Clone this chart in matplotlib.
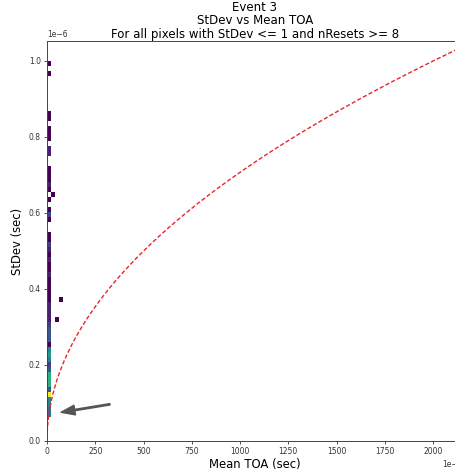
import numpy as np
import matplotlib
matplotlib.use("Agg")
import matplotlib.pyplot as plt

# ---------------- data (microseconds) ----------------
# occupied 2D-histogram cells: x bin index, y bin index, count
col_k = [0, 1, 2, 3, 4, 5, 6, 7, 8, 9, 10, 11, 12, 13, 14, 15, 16, 17, 18, 19,
         20, 21, 22, 23, 24, 25, 26, 27, 28, 29, 30, 31, 32, 33, 34, 35, 36,
         39, 40, 41, 43, 45, 46, 47, 48, 49, 52, 53, 55, 56, 57, 59, 60, 68, 70]
col_counts = [5, 5, 6, 6, 12, 4, 8, 8, 8, 4, 3, 6, 7, 6, 1, 4, 4, 4, 3, 2,
              2, 2, 2, 1, 1, 1, 1, 1, 2, 1, 1, 2, 1, 2, 3, 1, 1,
              1, 3, 1, 1, 1, 2, 1, 1, 1, 2, 2, 1, 1, 1, 1, 1, 1, 1]
out_xbin = [1, 2, 3]
out_k = [44, 19, 23]
out_counts = [1, 1, 1]

x_bin_width_us = 21.0
y_bin_start_us = 0.062
y_bin_width_us = 0.01321
n_ybins = 71
n_xbins = 4

curve_coef = 5e-10          # StDev = sqrt(coef * mean)
arrow_tail_us = (326.0, 0.0966)
arrow_head_us = (72.5, 0.0755)

US = 1e-6

# ---------------- build samples ----------------
xbins = [0] * len(col_k) + out_xbin
ks = col_k + out_k
counts = col_counts + out_counts
xs = np.array([(b + 0.5) * x_bin_width_us * US for b in xbins])
ys = np.array([(y_bin_start_us + (k + 0.5) * y_bin_width_us) * US for k in ks])
w = np.array(counts, dtype=float)

xedges = np.arange(n_xbins + 1) * x_bin_width_us * US
yedges = (y_bin_start_us + np.arange(n_ybins + 1) * y_bin_width_us) * US

fig = plt.figure(figsize=(4.55, 4.72), dpi=100)
ax = fig.add_axes([47 / 455, 31 / 472, 416 / 455, 400 / 472])

ax.hist2d(xs, ys, bins=[xedges, yedges], weights=w, cmin=1, cmap="viridis")

xc = np.linspace(1e-6, 2.2e-3, 600)
ax.plot(xc, np.sqrt(curve_coef * xc), linestyle="--", color="#e8262a", linewidth=1.0,
        dashes=(3, 1.6))

ax.annotate("", xy=(arrow_head_us[0] * US, arrow_head_us[1] * US),
            xytext=(arrow_tail_us[0] * US, arrow_tail_us[1] * US),
            arrowprops=dict(color="#555555", width=1.0, headwidth=7, headlength=10))

ax.set_xlim(0, 2155e-6)
ax.set_ylim(0, 1.0526e-6)
ax.set_xticks(np.arange(0, 2001, 250) * US)
ax.set_yticks(np.arange(0, 1.01, 0.2) * US)
ax.ticklabel_format(axis="x", style="sci", scilimits=(-6, -6))
ax.ticklabel_format(axis="y", style="sci", scilimits=(-6, -6))
ax.tick_params(labelsize=5.5, length=2.5, width=0.6, pad=2, colors="#333333",
               labelcolor="#333333")
ax.xaxis.get_offset_text().set_fontsize(5.5)
ax.yaxis.get_offset_text().set_fontsize(5.5)
for s in ax.spines.values():
    s.set_linewidth(0.7)
    s.set_color("#444444")

ax.set_xlabel("Mean TOA (sec)", fontsize=8.4, labelpad=1)
ax.set_ylabel("StDev (sec)", fontsize=8.4, labelpad=3)
ax.set_title("Event 3\nStDev vs Mean TOA\nFor all pixels with StDev <= 1 and nResets >= 8",
             fontsize=8.5, pad=2, linespacing=1.05)

fig.savefig("out.png", dpi=100)
